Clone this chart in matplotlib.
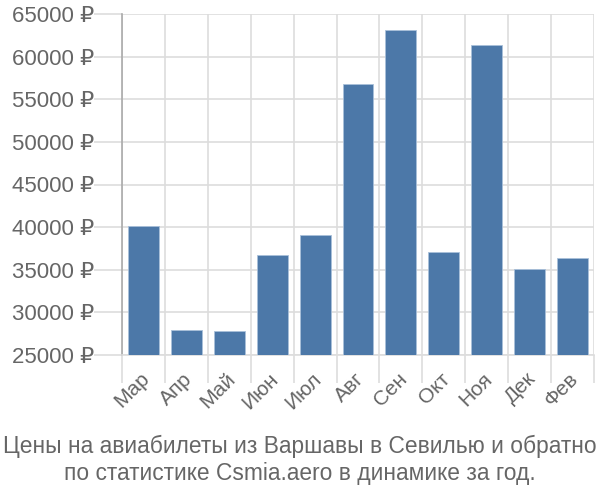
import matplotlib
matplotlib.use('Agg')
import numpy as np
from matplotlib import pyplot as plt
from matplotlib.transforms import ScaledTranslation

months = ['Мар', 'Апр', 'Май', 'Июн', 'Июл', 'Авг', 'Сен', 'Окт', 'Ноя', 'Дек', 'Фев']
prices = [40150, 27900, 27800, 36750, 39050, 56750, 63100, 37050, 61350, 35100, 36400]
y_ticks = [25000, 30000, 35000, 40000, 45000, 50000, 55000, 60000, 65000]
title = 'Цены на авиабилеты из Варшавы в Севилью и обратно\nпо статистике Csmia.aero в динамике за год.'

BAR_COLOR = '#4c78a8'
GRID_COLOR = '#dddddd'
TEXT_COLOR = '#666666'

plt.rcParams['font.family'] = ['Liberation Sans', 'DejaVu Sans']

fig = plt.figure(figsize=(6, 5), dpi=100)
ax = fig.add_axes([122 / 600, 1 - 355 / 500, 472 / 600, 341 / 500])

x = np.arange(len(months))
ax.bar(x, prices, width=0.72, color=BAR_COLOR, edgecolor='#a9c0da', linewidth=0.6,
       zorder=3)

ax.set_xlim(-0.5, len(months) - 0.5)
ax.set_ylim(25000, 65000)

# vertical grid lines sit on the category boundaries
ax.set_xticks(np.arange(-0.5, len(months), 1.0), minor=True)
ax.set_xticks(x)
ax.set_xticklabels(months, rotation=45, ha='right', va='center', rotation_mode='anchor',
                   fontsize=15, color=TEXT_COLOR)
ax.tick_params(axis='x', which='major', length=0, pad=15)
ax.tick_params(axis='x', which='minor', length=20, color=GRID_COLOR, width=1.2)
ax.grid(True, axis='x', which='minor', color=GRID_COLOR, linewidth=1.2, zorder=0)
shift = ScaledTranslation(3 / 100, 0, fig.dpi_scale_trans)
for lbl in ax.get_xticklabels():
    lbl.set_transform(lbl.get_transform() + shift)

ax.set_yticks(y_ticks)
ax.set_yticklabels([f'{v} ₽' for v in y_ticks], fontsize=16, color=TEXT_COLOR)
ax.tick_params(axis='y', length=20, color=GRID_COLOR, width=1.2, pad=0)
ax.grid(True, axis='y', color=GRID_COLOR, linewidth=1.2, zorder=0)

for side in ('top', 'right'):
    ax.spines[side].set_visible(False)
ax.spines['bottom'].set_color(GRID_COLOR)
ax.spines['bottom'].set_linewidth(1.2)
ax.spines['left'].set_color('#aaaaaa')
ax.spines['left'].set_linewidth(1.2)

fig.text(0.5, 1 - 460 / 500, title, ha='center', va='center', fontsize=16.4,
         color=TEXT_COLOR, linespacing=1.2)

fig.savefig('out.png', dpi=100)
